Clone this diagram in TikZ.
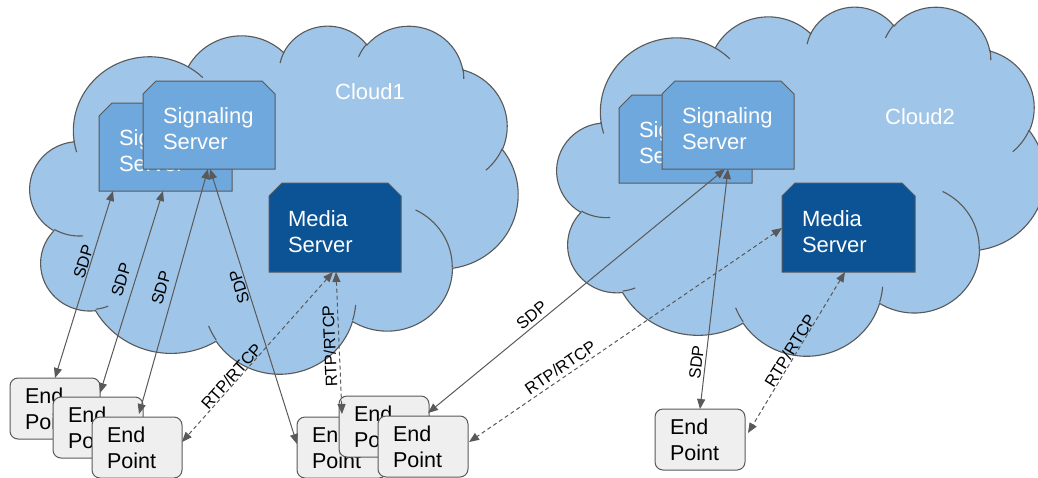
\documentclass[tikz,border=0pt]{standalone}
\usepackage{fontspec}
\setmainfont{Liberation Sans}
\usetikzlibrary{arrows.meta,calc}
\definecolor{cloudfill}{HTML}{9FC5E8}
\definecolor{ssfill}{HTML}{6FA8DC}
\definecolor{msfill}{HTML}{0B5394}
\definecolor{epfill}{HTML}{EFEFEF}
\definecolor{edge}{HTML}{595959}
\newcommand\bigfont{\fontsize{22}{26}\selectfont}
\newcommand\epfont{\fontsize{21.5}{26}\selectfont}
\newcommand\labfont{\fontsize{16.5}{19}\selectfont}
% cloud (Office preset geometry, path units in thousands of 43200)
\def\cldX{0}\def\cldY{0}\def\cldW{1}\def\cldH{1}
\newcommand\cldpt[2]{\pgfpoint{\cldX pt+#1pt/43.2*\cldW}{-\cldY pt-#2pt/43.2*\cldH}}
\newcommand\cldarc[4]{%
  \pgfmathsetmacro\cldts{atan2(#1*sin(#3),#2*cos(#3))}%
  \pgfmathsetmacro\cldtf{atan2(#1*sin(#3+#4),#2*cos(#3+#4))}%
  \pgfmathsetmacro\cldte{\cldtf+360*(#4>0)*(\cldtf<\cldts)-360*(#4<0)*(\cldtf>\cldts)}%
  \pgfmathsetmacro\cldrx{#1/43.2*\cldW}%
  \pgfmathsetmacro\cldry{#2/43.2*\cldH}%
  \pgfmathsetmacro\cldsa{-1*(\cldts)}%
  \pgfmathsetmacro\cldea{-1*(\cldte)}%
  \pgfpatharc{\cldsa}{\cldea}{\cldrx pt and \cldry pt}}
\newcommand\drawcloud[4]{%
  \def\cldX{#1}\def\cldY{#2}\def\cldW{#3}\def\cldH{#4}%
  \begin{pgfscope}
  \pgfsetlinewidth{1.1pt}\pgfsetstrokecolor{edge}\pgfsetfillcolor{cloudfill}%
  \pgfpathmoveto{\cldpt{3.900}{14.370}}%
  \cldarc{6.753}{9.190}{-190.4875}{123.7805}%
  \cldarc{5.333}{7.267}{-144.1024}{89.9452}%
  \cldarc{4.365}{5.945}{-145.8079}{99.7230}%
  \cldarc{4.857}{6.595}{-130.9861}{117.2417}%
  \cldarc{5.333}{7.273}{-78.7089}{109.0269}%
  \cldarc{6.775}{9.220}{-46.2673}{130.2690}%
  \cldarc{5.785}{7.867}{0.6250}{114.0333}%
  \cldarc{6.752}{9.215}{22.4516}{115.1726}%
  \cldarc{7.720}{10.543}{66.2426}{75.7110}%
  \cldarc{4.360}{5.918}{-274.9421}{146.7356}%
  \cldarc{4.345}{5.945}{-246.8285}{152.5189}%
  \pgfpathclose
  \pgfusepath{fill,stroke}%
  \pgfpathmoveto{\cldpt{4.693}{26.177}}\cldarc{4.345}{5.945}{86.7420}{26.4295}%
  \pgfpathmoveto{\cldpt{6.928}{34.899}}\cldarc{4.360}{5.918}{73.6105}{11.4475}%
  \pgfpathmoveto{\cldpt{16.478}{39.090}}\cldarc{6.752}{9.215}{137.6242}{14.0811}%
  \pgfpathmoveto{\cldpt{28.827}{34.751}}\cldarc{6.752}{9.215}{6.4533}{15.9984}%
  \pgfpathmoveto{\cldpt{34.129}{22.954}}\cldarc{5.785}{7.867}{-70.2924}{70.9174}%
  \pgfpathmoveto{\cldpt{41.798}{15.354}}\cldarc{5.333}{7.273}{30.3180}{27.7515}%
  \pgfpathmoveto{\cldpt{38.324}{5.426}}\cldarc{4.857}{6.595}{-13.7443}{14.8589}%
  \pgfpathmoveto{\cldpt{29.078}{3.952}}\cldarc{4.857}{6.595}{-149.1815}{18.1954}%
  \pgfpathmoveto{\cldpt{22.141}{4.720}}\cldarc{4.365}{5.945}{-163.4943}{17.6864}%
  \pgfpathmoveto{\cldpt{14.000}{5.192}}\cldarc{6.753}{9.190}{-66.7070}{12.3194}%
  \pgfpathmoveto{\cldpt{4.127}{15.789}}\cldarc{6.753}{9.190}{157.6544}{11.8582}%
  \pgfusepath{stroke}%
  \end{pgfscope}}
% snipped-corner box outline: x y w h fill (image coordinates, top-left)
\newcommand\snipbox[5]{\filldraw[fill=#5, draw=edge, line width=1pt]
  (#1,-#2-#4) -- (#1,-#2-13) -- (#1+13,-#2) -- (#1+#3-13,-#2) -- (#1+#3,-#2-13) -- (#1+#3,-#2-#4) -- cycle;}
\begin{document}
\begin{tikzpicture}[x=1pt,y=1pt,
  srv/.style={anchor=north west, draw=none, outer sep=0pt, inner xsep=20pt, inner ysep=0pt,
    text width=93pt, align=left, text=white, font=\bigfont},
  ep/.style={anchor=north west, draw=edge, fill=epfill, line width=1pt, rounded corners=8pt,
    outer sep=0pt, minimum height=61pt, inner xsep=15pt, inner ysep=0pt, text width=60pt,
    align=left, font=\epfont, text=black},
  cloudtxt/.style={anchor=base west, inner sep=0pt, text=white, font=\bigfont},
  conn/.style={draw=edge, line width=1pt, >={Triangle[length=10pt,width=8pt]}, <->},
  dconn/.style={conn, dash pattern=on 4pt off 3pt},
  lab/.style={font=\labfont, anchor=south, text=black}]
\useasboundingbox (0,0) rectangle (1038,-477);
% clouds
\drawcloud{30}{25}{488}{348}
\drawcloud{557}{6}{488}{349}
\node[cloudtxt] (c1) at (335,-99) {Cloud1};
\node[cloudtxt] (c2) at (885,-124) {Cloud2};
% cloud 1 servers
\snipbox{99}{103}{133}{88}{ssfill}
\node[srv, minimum height=88pt] (ss1b) at (99,-103) {\rule{0pt}{24pt}Signaling\\Server};
\snipbox{143}{81}{132}{88}{ssfill}
\node[srv, minimum height=88pt, text width=92pt] (ss1f) at (143,-81) {\rule{0pt}{24pt}Signaling\\Server};
\snipbox{269}{183}{132}{89}{msfill}
\node[srv, minimum height=89pt, inner xsep=19pt, text width=94pt] (ms1) at (269,-183) {\rule{0pt}{25pt}Media\\Server};
% cloud 2 servers
\snipbox{619}{95}{133}{88}{ssfill}
\node[srv, minimum height=88pt] (ss2b) at (619,-95) {\rule{0pt}{24pt}Signaling\\Server};
\snipbox{662}{81}{132}{88}{ssfill}
\node[srv, minimum height=88pt, text width=92pt] (ss2f) at (662,-81) {\rule{0pt}{24pt}Signaling\\Server};
\snipbox{782}{183}{133}{89}{msfill}
\node[srv, minimum height=89pt] (ms2) at (782,-183) {\rule{0pt}{25pt}Media\\Server};
% end points
\node[ep] (ep1a) at (10,-378) {End\\Point};
\node[ep] (ep1b) at (53,-397) {End\\Point};
\node[ep] (ep1c) at (92,-417) {End\\Point};
\node[ep] (ep2a) at (297,-417) {End\\Point};
\node[ep] (ep2b) at (339,-396) {End\\Point};
\node[ep] (ep2c) at (378,-416) {End\\Point};
\node[ep] (ep3) at (655,-409) {End\\Point};
% connectors
\draw[conn] ([xshift=14pt]ss1b.south west) -- node[lab,pos=.39,rotate=72.7,inner sep=1pt] (l1) {SDP} ([xshift=45pt]ep1a.north west);
\draw[conn] ([xshift=64pt]ss1b.south west) -- node[lab,pos=.46,rotate=72.8,inner sep=7pt] (l2) {SDP} ([yshift=-15pt]ep1a.north east);
\draw[conn] ([xshift=65pt]ss1f.south west) -- node[lab,pos=.5,rotate=74,inner sep=6.5pt] (l3) {SDP} ([xshift=-4pt,yshift=-17pt]ep1b.north east);
\draw[conn] ([xshift=67pt]ss1f.south west) -- node[lab,pos=.42,rotate=107.4,inner sep=1.2pt] (l4) {SDP} ([yshift=-27pt]ep2a.north west);
\draw[dconn] ([xshift=64pt]ms1.south west) -- node[lab,pos=.64,rotate=48.2,inner sep=0pt] (l5) {RTP/RTCP} ([yshift=-25pt]ep1c.north east);
\draw[dconn] ([xshift=67pt]ms1.south west) -- node[lab,pos=.52,rotate=92.5,inner sep=3pt] (l6) {RTP/RTCP} ([xshift=45pt,yshift=3pt]ep2a.north west);
\draw[conn] ([xshift=63pt]ss2f.south west) -- node[lab,pos=.63,rotate=39.3,inner sep=3.5pt] (l7) {SDP} ([xshift=-1pt,yshift=-17pt]ep2b.north east);
\draw[conn] ([xshift=66pt]ss2f.south west) -- node[lab,pos=.81,rotate=83.3,inner sep=2.5pt] (l8) {SDP} ([xshift=45pt]ep3.north west);
\draw[dconn] ([yshift=-45pt]ms2.north west) -- node[lab,pos=.69,rotate=34.5,inner sep=3.5pt] (l9) {RTP/RTCP} ([xshift=1pt,yshift=-26pt]ep2c.north east);
\draw[dconn] ([xshift=63pt]ms2.south west) -- node[lab,pos=.51,rotate=58.5,inner sep=0pt] (l10) {RTP/RTCP} ([xshift=3pt,yshift=-24pt]ep3.north east);
\end{tikzpicture}
\end{document}
